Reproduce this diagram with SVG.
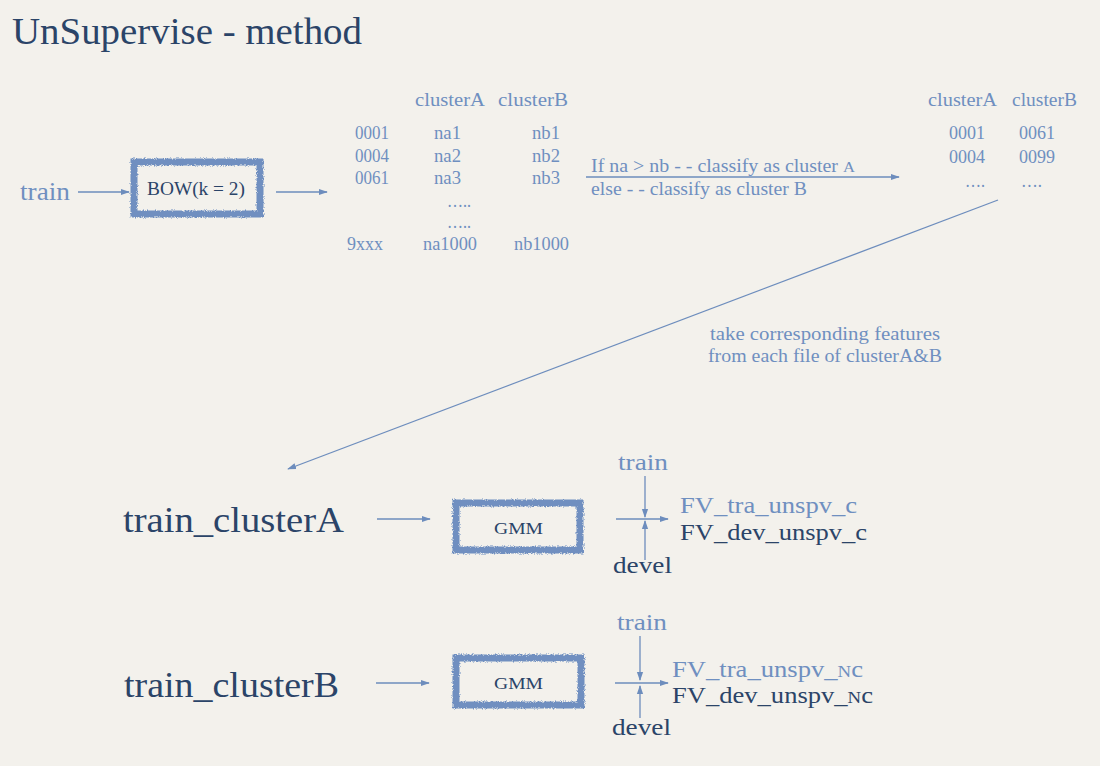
<svg xmlns="http://www.w3.org/2000/svg" width="1100" height="766" viewBox="0 0 1100 766">
<defs>
<filter id="rough" x="-10%" y="-20%" width="120%" height="140%">
<feTurbulence type="fractalNoise" baseFrequency="0.9" numOctaves="2" seed="3" result="n"/>
<feDisplacementMap in="SourceGraphic" in2="n" scale="4" xChannelSelector="R" yChannelSelector="G"/>
</filter>
<marker id="ah" viewBox="0 0 10 10" refX="9" refY="5" markerWidth="9" markerHeight="9" markerUnits="userSpaceOnUse" orient="auto">
<path d="M0,1.5 L10,5 L0,8.5 z" fill="#6d8dbd"/>
</marker>
</defs>
<style>
text{font-family:"Liberation Serif","DejaVu Serif",serif;}
.b{fill:#6f8fc0;}
.d{fill:#2b4468;}
.t17{font-size:18px;}
.c{stroke:#6d8dbd;stroke-width:1.3;fill:none;marker-end:url(#ah);}
.box{fill:none;stroke:#6f8fc0;stroke-width:7;filter:url(#rough);}
</style>
<rect width="1100" height="766" fill="#f3f1ec"/>
<text x="12" y="44" class="d" font-size="38" textLength="350" lengthAdjust="spacingAndGlyphs">UnSupervise - method</text>

<g id="train_in"><text x="20" y="200" class="b" font-size="25" textLength="50" lengthAdjust="spacingAndGlyphs">train</text></g>
<g id="bow">
<rect x="134" y="162" width="126" height="52" class="box"/>
<text x="147" y="195" class="d" font-size="18" textLength="98" lengthAdjust="spacingAndGlyphs">BOW(k = 2)</text>
</g>
<g id="table1" class="b t17">
<text x="415" y="106" textLength="70" lengthAdjust="spacingAndGlyphs">clusterA</text>
<text x="498" y="106" textLength="70" lengthAdjust="spacingAndGlyphs">clusterB</text>
<text x="355" y="139" textLength="34" lengthAdjust="spacingAndGlyphs">0001</text><text x="434" y="139" textLength="27" lengthAdjust="spacingAndGlyphs">na1</text><text x="532" y="139" textLength="28" lengthAdjust="spacingAndGlyphs">nb1</text>
<text x="355" y="162" textLength="34" lengthAdjust="spacingAndGlyphs">0004</text><text x="434" y="162" textLength="27" lengthAdjust="spacingAndGlyphs">na2</text><text x="532" y="162" textLength="28" lengthAdjust="spacingAndGlyphs">nb2</text>
<text x="355" y="184" textLength="34" lengthAdjust="spacingAndGlyphs">0061</text><text x="434" y="184" textLength="27" lengthAdjust="spacingAndGlyphs">na3</text><text x="532" y="184" textLength="28" lengthAdjust="spacingAndGlyphs">nb3</text>
<text x="447" y="207" textLength="24" lengthAdjust="spacingAndGlyphs">…..</text>
<text x="447" y="228" textLength="24" lengthAdjust="spacingAndGlyphs">…..</text>
<text x="347" y="250" textLength="36" lengthAdjust="spacingAndGlyphs">9xxx</text><text x="423" y="250" textLength="54" lengthAdjust="spacingAndGlyphs">na1000</text><text x="514" y="250" textLength="55" lengthAdjust="spacingAndGlyphs">nb1000</text>
</g>
<g id="rule" class="b t17">
<text x="591" y="172" textLength="264" lengthAdjust="spacingAndGlyphs">If na &gt; nb - - classify as cluster <tspan font-size="15">A</tspan></text>
<text x="591" y="195" textLength="216" lengthAdjust="spacingAndGlyphs">else - - classify as cluster B</text>
</g>
<g id="table2" class="b t17">
<text x="928" y="106" textLength="69" lengthAdjust="spacingAndGlyphs">clusterA</text>
<text x="1012" y="106" textLength="65" lengthAdjust="spacingAndGlyphs">clusterB</text>
<text x="949" y="139" textLength="36" lengthAdjust="spacingAndGlyphs">0001</text><text x="1019" y="139" textLength="36" lengthAdjust="spacingAndGlyphs">0061</text>
<text x="949" y="163" textLength="36" lengthAdjust="spacingAndGlyphs">0004</text><text x="1019" y="163" textLength="36" lengthAdjust="spacingAndGlyphs">0099</text>
<text x="965" y="187" textLength="20" lengthAdjust="spacingAndGlyphs">….</text><text x="1021" y="187" textLength="21" lengthAdjust="spacingAndGlyphs">….</text>
</g>
<g id="note" class="b t17">
<text x="710" y="340" textLength="230" lengthAdjust="spacingAndGlyphs">take corresponding features</text>
<text x="708" y="362" textLength="234" lengthAdjust="spacingAndGlyphs">from each file of clusterA&amp;B</text>
</g>
<g id="clusterA"><text x="123" y="532" class="d" font-size="36" textLength="221" lengthAdjust="spacingAndGlyphs">train_clusterA</text></g>
<g id="clusterB"><text x="124" y="697" class="d" font-size="36" textLength="215" lengthAdjust="spacingAndGlyphs">train_clusterB</text></g>
<g id="gmmA">
<rect x="456" y="503" width="124" height="47" class="box"/>
<text x="494" y="534" class="d" font-size="17" textLength="49" lengthAdjust="spacingAndGlyphs">GMM</text>
</g>
<g id="gmmB">
<rect x="456" y="658" width="125" height="47" class="box"/>
<text x="494" y="689" class="d" font-size="17" textLength="49" lengthAdjust="spacingAndGlyphs">GMM</text>
</g>
<g id="outA">
<text x="618" y="470" class="b" font-size="23" textLength="50" lengthAdjust="spacingAndGlyphs">train</text>
<text x="613" y="573" class="d" font-size="23" textLength="59" lengthAdjust="spacingAndGlyphs">devel</text>
<text x="680" y="513" class="b" font-size="24" textLength="177" lengthAdjust="spacingAndGlyphs">FV_tra_unspv_c</text>
<text x="680" y="540" class="d" font-size="24" textLength="187" lengthAdjust="spacingAndGlyphs">FV_dev_unspv_c</text>
</g>
<g id="outB">
<text x="617" y="630" class="b" font-size="23" textLength="50" lengthAdjust="spacingAndGlyphs">train</text>
<text x="612" y="735" class="d" font-size="23" textLength="59" lengthAdjust="spacingAndGlyphs">devel</text>
<text x="672" y="677" class="b" font-size="24" textLength="191" lengthAdjust="spacingAndGlyphs">FV_tra_unspv_<tspan font-size="17">N</tspan>c</text>
<text x="672" y="703" class="d" font-size="24" textLength="201" lengthAdjust="spacingAndGlyphs">FV_dev_unspv_<tspan font-size="17">N</tspan>c</text>
</g>
<g id="connectors">
<line x1="78" y1="192" x2="129" y2="192" class="c"/>
<line x1="276" y1="192" x2="327" y2="192" class="c"/>
<line x1="586" y1="177" x2="899" y2="177" class="c"/>
<line x1="998" y1="200" x2="288" y2="469" class="c"/>
<line x1="377" y1="519" x2="430" y2="519" class="c"/>
<line x1="376" y1="683" x2="429" y2="683" class="c"/>
<line x1="645" y1="476" x2="645" y2="517" class="c"/>
<line x1="616" y1="519" x2="668" y2="519" class="c"/>
<line x1="645" y1="560" x2="645" y2="521" class="c"/>
<line x1="640" y1="636" x2="640" y2="680" class="c"/>
<line x1="615" y1="683" x2="668" y2="683" class="c"/>
<line x1="640" y1="718" x2="640" y2="686" class="c"/>
</g>
</svg>
